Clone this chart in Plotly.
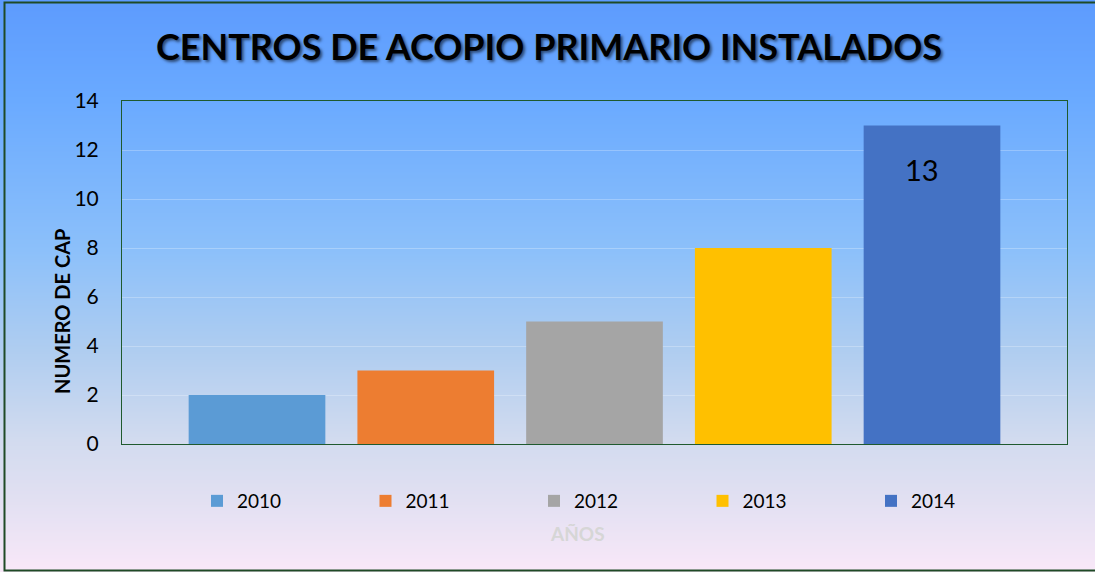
import base64, struct, zlib
import plotly.graph_objects as go

# ---- data ----
years = ["2010", "2011", "2012", "2013", "2014"]
values = [2, 3, 5, 8, 13]
colors = ["#5b9bd5", "#ed7d31", "#a5a5a5", "#ffc000", "#4472c4"]
label_year = "2014"
label_value = 13

title_text = "CENTROS DE ACOPIO PRIMARIO INSTALADOS"
y_title = "NUMERO DE CAP"
x_title = "AÑOS"

W, H = 1095, 572
ML, MR, MT, MB = 122, 28, 101, 128
PW, PH = W - ML - MR, H - MT - MB

# ---- background gradient image (vertical) ----
stops = [(0, (93, 155, 254)), (100, (106, 170, 255)), (250, (140, 192, 250)),
         (350, (175, 205, 240)), (440, (210, 219, 239)), (500, (226, 224, 242)),
         (572, (249, 232, 248))]

def lerp_color(y):
    for (y0, c0), (y1, c1) in zip(stops[:-1], stops[1:]):
        if y0 <= y <= y1:
            t = (y - y0) / (y1 - y0)
            return tuple(int(round(a + (b - a) * t)) for a, b in zip(c0, c1))
    return stops[-1][1]

def png_gradient(h):
    raw = b"".join(b"\x00" + bytes(lerp_color(y)) for y in range(h))
    def chunk(tag, data):
        c = struct.pack(">I", len(data)) + tag + data
        return c + struct.pack(">I", zlib.crc32(tag + data) & 0xffffffff)
    png = b"\x89PNG\r\n\x1a\n" + chunk(b"IHDR", struct.pack(">IIBBBBB", 1, h, 8, 2, 0, 0, 0))
    png += chunk(b"IDAT", zlib.compress(raw)) + chunk(b"IEND", b"")
    return "data:image/png;base64," + base64.b64encode(png).decode()

FONT = "Lato"
fig = go.Figure()
for yr, v, c in zip(years, values, colors):
    fig.add_trace(go.Bar(x=[yr], y=[v], name=yr, marker=dict(color=c, line=dict(width=0)),
                         width=0.81, hoverinfo="x+y"))

fig.update_layout(
    width=W, height=H,
    margin=dict(l=ML, r=MR, t=MT, b=MB, autoexpand=False),
    barmode="overlay",
    paper_bgcolor="#a8c8f4",
    plot_bgcolor="rgba(0,0,0,0)",
    font=dict(family=FONT, size=19, color="#000000"),
    showlegend=True,
    legend=dict(orientation="h", x=(197 - ML) / PW, xanchor="left", y=-(501 - 444) / PH,
                yanchor="middle", entrywidth=123.5, entrywidthmode="pixels",
                font=dict(family=FONT, size=19, color="#000000"), bgcolor="rgba(0,0,0,0)",
                itemclick=False),
    title=dict(text=title_text, x=549 / W, xanchor="center", y=1 - 47 / H, yanchor="middle",
               font=dict(family=FONT, size=36, weight="bold", color="#000000",
                         shadow="2px 2px 3px rgba(0,0,0,0.55)")),
    images=[dict(source=png_gradient(H), xref="paper", yref="paper",
                 x=-ML / PW, y=1 + MT / PH, sizex=W / PW, sizey=H / PH,
                 xanchor="left", yanchor="top", sizing="stretch", layer="below")],
)
fig.update_xaxes(type="category", range=[-0.80, 4.80], showticklabels=False, ticks="",
                 showgrid=False, showline=True, linecolor="#1f5a2e", linewidth=1, mirror=True,
                 zeroline=False)
fig.update_yaxes(range=[0, 14], dtick=2, showgrid=True, gridcolor="rgba(255,255,255,0.25)",
                 gridwidth=1, showline=True, linecolor="#1f5a2e", linewidth=1, mirror=True,
                 zeroline=False, ticks="", ticklabelstandoff=18,
                 tickfont=dict(family=FONT, size=21, color="#000000"))

# data label (category axis -> use the category index)
fig.add_annotation(x=years.index(label_year), y=label_value, xref="x", yref="y",
                   text=str(label_value), showarrow=False, yshift=-44, xshift=-10,
                   xanchor="center", yanchor="middle",
                   font=dict(family=FONT, size=29, color="#000000"))
# axis titles
fig.add_annotation(xref="paper", yref="paper", x=(62 - ML) / PW, y=(444 - 312) / PH,
                   xanchor="center", yanchor="middle",
                   text=f"<b>{y_title}</b>", textangle=-90, showarrow=False,
                   font=dict(family=FONT, size=20, color="#000000"))
fig.add_annotation(xref="paper", yref="paper", x=(577 - ML) / PW, y=-(533 - 444) / PH,
                   xanchor="center", yanchor="middle",
                   text=f"<b>{x_title}</b>", showarrow=False,
                   font=dict(family=FONT, size=19, color="#d6d6d6"))
# outer chart border
fig.add_shape(type="rect", xref="paper", yref="paper",
              x0=-(ML - 4.5) / PW, x1=(W + 30 - ML) / PW, y0=-(MB - 1.5) / PH, y1=1 + (MT - 2.5) / PH,
              line=dict(color="#1f4a26", width=2), fillcolor="rgba(0,0,0,0)", layer="above")

fig.write_html("out.html", post_script="document.body.style.margin='0';",
               config={"displayModeBar": False})
